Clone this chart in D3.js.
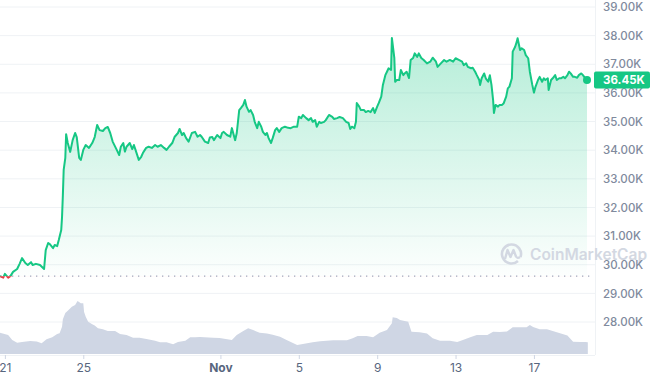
<!DOCTYPE html>
<html>
<head>
<meta charset="utf-8">
<script src="https://cdn.jsdelivr.net/npm/d3@7"></script>
<style>
  body { margin: 0; background: #fff; }
  text { font-family: Inter, "Noto Sans", sans-serif; }
</style>
</head>
<body>
<script>
// hours are counted from Oct 21 2023 00:00
var startDate = new Date(2023, 9, 21)

// [hour, price in K USD]
var priceSeries = [
  [-6, 29.60], [-2, 29.55], [0, 29.68], [4, 29.55], [7, 29.61], [10, 29.75], [15, 29.85], [18, 30.03],
  [21, 30.23], [25, 30.06], [28, 29.99], [32, 30.09], [34, 29.99], [38, 30.03], [43, 29.99], [48, 29.85],
  [50, 30.51], [53, 30.76], [55, 30.72], [59, 30.58], [61, 30.69], [64, 30.65], [66, 30.86], [69, 31.21],
  [70, 31.67], [71, 32.43], [72, 33.31], [74, 33.73], [75, 34.56], [77, 34.25], [80, 33.94], [83, 34.35],
  [86, 34.60], [88, 34.46], [91, 33.73], [93, 33.66], [96, 34.01], [99, 34.18], [103, 34.08], [107, 34.25],
  [110, 34.46], [113, 34.88], [116, 34.70], [120, 34.67], [123, 34.77], [126, 34.81], [129, 34.60], [132, 34.30],
  [137, 34.01], [140, 33.83], [142, 34.12], [145, 34.25], [147, 33.95], [149, 34.12], [153, 34.25], [156, 34.04],
  [158, 34.18], [160, 34.01], [164, 33.66], [167, 33.77], [169, 33.90], [173, 34.08], [176, 34.12], [180, 34.08],
  [184, 34.18], [187, 34.12], [191, 34.18], [195, 34.08], [198, 34.01], [201, 34.12], [205, 34.25], [208, 34.47],
  [212, 34.60], [214, 34.74], [217, 34.53], [219, 34.60], [222, 34.42], [225, 34.30], [229, 34.60], [233, 34.64],
  [236, 34.47], [239, 34.53], [241, 34.47], [245, 34.30], [249, 34.25], [251, 34.44], [254, 34.46], [256, 34.35],
  [260, 34.53], [264, 34.42], [266, 34.60], [268, 34.64], [272, 34.53], [276, 34.47], [278, 34.77], [282, 34.35],
  [284, 34.60], [287, 35.40], [289, 35.47], [292, 35.58], [294, 35.75], [296, 35.52], [299, 35.34], [301, 35.40],
  [304, 35.23], [306, 34.99], [309, 34.77], [311, 34.99], [314, 34.82], [316, 34.64], [319, 34.53], [321, 34.60],
  [323, 34.42], [326, 34.25], [328, 34.42], [331, 34.70], [333, 34.77], [336, 34.64], [339, 34.77], [343, 34.82],
  [347, 34.78], [350, 34.77], [354, 34.82], [358, 34.82], [360, 35.17], [363, 35.12], [365, 35.23], [369, 35.12],
  [372, 35.05], [375, 35.12], [377, 34.99], [380, 35.05], [382, 34.82], [385, 34.99], [387, 34.95], [391, 34.99],
  [393, 35.05], [397, 35.23], [401, 35.16], [403, 35.09], [407, 35.12], [410, 35.16], [414, 35.12], [418, 34.99],
  [421, 34.95], [423, 34.74], [425, 34.82], [428, 34.77], [430, 34.99], [431, 35.65], [434, 35.52], [436, 35.40],
  [440, 35.40], [442, 35.33], [445, 35.37], [448, 35.33], [451, 35.47], [453, 35.30], [456, 35.52], [458, 35.65],
  [461, 35.87], [463, 36.28], [466, 36.62], [468, 36.74], [470, 36.86], [473, 36.80], [474, 37.92], [477, 37.22],
  [478, 36.39], [480, 36.45], [483, 36.45], [485, 36.80], [488, 36.62], [490, 36.69], [492, 36.74], [495, 36.52],
  [497, 37.15], [500, 37.22], [502, 37.38], [505, 37.26], [507, 37.38], [510, 37.22], [513, 37.15], [517, 37.03],
  [521, 37.09], [524, 37.23], [528, 37.09], [530, 36.91], [534, 37.03], [538, 37.15], [541, 37.09], [545, 37.15],
  [549, 37.09], [552, 37.21], [556, 37.15], [560, 37.09], [562, 36.97], [565, 37.03], [567, 36.91], [571, 36.86],
  [573, 36.88], [576, 36.74], [578, 36.62], [581, 36.45], [582, 36.28], [584, 36.51], [587, 36.68], [589, 36.51],
  [592, 36.39], [594, 36.62], [596, 36.28], [598, 35.75], [599, 35.30], [601, 35.58], [604, 35.52], [606, 35.58],
  [609, 35.58], [611, 35.64], [614, 35.87], [616, 36.16], [618, 36.22], [621, 36.51], [622, 37.44], [625, 37.61],
  [627, 37.79], [628, 37.91], [631, 37.50], [633, 37.56], [636, 37.50], [638, 37.32], [641, 37.21], [643, 36.74],
  [646, 36.28], [648, 36.01], [650, 36.22], [653, 36.45], [655, 36.56], [658, 36.39], [660, 36.51], [662, 36.45],
  [665, 36.51], [666, 36.10], [669, 36.45], [671, 36.51], [674, 36.62], [676, 36.45], [679, 36.51], [681, 36.51],
  [684, 36.56], [686, 36.51], [689, 36.62], [691, 36.74], [693, 36.68], [696, 36.56], [698, 36.56], [701, 36.53],
  [703, 36.62], [706, 36.68], [708, 36.62], [711, 36.51], [713, 36.45]
]

// [hour, volume in B USD]
var volumeSeries = [
  [-6, 17.0], [4, 15.2], [9, 11.2], [15, 9.0], [21, 9.6], [31, 10.4], [39, 10.0], [45, 8.6],
  [51, 11.8], [58, 13.4], [64, 16.0], [67, 16.6], [70, 21.8], [71, 27.8], [74, 32.8], [77, 34.6],
  [82, 37.8], [86, 39.2], [89, 42.4], [93, 40.6], [96, 40.6], [97, 33.6], [99, 29.8], [102, 25.8],
  [107, 23.8], [110, 22.8], [114, 20.6], [120, 19.8], [126, 18.4], [135, 18.4], [141, 16.0], [149, 15.2],
  [157, 13.0], [165, 13.0], [175, 11.8], [184, 10.6], [190, 9.4], [198, 9.4], [206, 7.8], [212, 9.6],
  [221, 10.6], [227, 13.4], [233, 13.4], [239, 13.6], [255, 13.0], [263, 12.8], [278, 11.2], [284, 15.2],
  [292, 18.4], [298, 20.6], [304, 19.2], [312, 17.0], [321, 16.4], [328, 15.4], [337, 13.8], [345, 11.2],
  [358, 7.2], [365, 8.0], [377, 9.4], [386, 10.2], [402, 11.0], [419, 11.0], [426, 12.6], [432, 14.4],
  [443, 14.4], [451, 13.4], [459, 17.0], [468, 19.2], [474, 24.6], [475, 29.4], [480, 28.8], [484, 27.2],
  [494, 25.8], [498, 17.8], [508, 17.4], [517, 16.4], [524, 12.6], [533, 10.6], [545, 10.6], [554, 9.6],
  [561, 11.2], [570, 13.4], [578, 15.2], [591, 15.2], [598, 17.8], [606, 17.6], [615, 18.0], [622, 21.4],
  [631, 21.4], [639, 21.4], [643, 23.2], [647, 21.6], [655, 19.8], [664, 19.8], [671, 18.4], [680, 16.6],
  [689, 14.8], [696, 9.8], [705, 9.6], [711, 9.6], [714, 9.4]
]

var priceTicks = [28, 29, 30, 31, 32, 33, 34, 35, 36, 37, 38, 39]
var dateTicks = ['2023-10-21', '2023-10-25', '2023-11-01', '2023-11-05', '2023-11-09', '2023-11-13', '2023-11-17']
var lastPriceLabel = '36.45K'

var green = '#16c784', red = '#ea3943'
var width = 650, height = 380

var prices = priceSeries.map(function (d) {
  return { date: d3.timeHour.offset(startDate, d[0]), value: d[1] }
})
var volumes = volumeSeries.map(function (d) {
  return { date: d3.timeHour.offset(startDate, d[0]), value: d[1] }
})
var openPrice = prices[0].value

var x = d3.scaleTime().domain(d3.extent(prices, d => d.date)).range([0, 587])
var y = d3.scaleLinear().domain([28, 39]).range([322, 7])
var yVol = d3.scaleLinear().domain([0, 60]).range([354, 279])

var svg = d3.select('body').append('svg')
  .attr('width', width)
  .attr('height', height)

var defs = svg.append('defs')
var grad = defs.append('linearGradient')
  .attr('id', 'up-fill')
  .attr('gradientUnits', 'userSpaceOnUse')
  .attr('x1', 0).attr('x2', 0)
  .attr('y1', y(38)).attr('y2', y(openPrice))
grad.append('stop').attr('offset', 0).attr('stop-color', green).attr('stop-opacity', 0.32)
grad.append('stop').attr('offset', 1).attr('stop-color', green).attr('stop-opacity', 0.01)

defs.append('clipPath').attr('id', 'above')
  .append('rect').attr('x', -5).attr('y', 0).attr('width', 610).attr('height', y(openPrice))
defs.append('clipPath').attr('id', 'below')
  .append('rect').attr('x', -5).attr('y', y(openPrice)).attr('width', 610).attr('height', 100)

// grid
svg.append('g')
  .selectAll('line')
  .data(priceTicks)
  .enter()
  .append('line')
  .attr('x1', 0).attr('x2', 595)
  .attr('y1', d => y(d)).attr('y2', d => y(d))
  .attr('stroke', '#eff2f5')
  .attr('stroke-width', 1)

svg.append('line')
  .attr('x1', 595.5).attr('x2', 595.5)
  .attr('y1', 0).attr('y2', 355)
  .attr('stroke', '#eff2f5')

// volume
svg.append('path')
  .datum(volumes)
  .attr('fill', '#cfd6e4')
  .attr('d', d3.area().x(d => x(d.date)).y0(yVol(0)).y1(d => yVol(d.value)))

// price area
var area = d3.area().x(d => x(d.date)).y0(y(openPrice)).y1(d => y(d.value))
svg.append('path')
  .datum(prices)
  .attr('clip-path', 'url(#above)')
  .attr('fill', 'url(#up-fill)')
  .attr('d', area)
svg.append('path')
  .datum(prices)
  .attr('clip-path', 'url(#below)')
  .attr('fill', red)
  .attr('fill-opacity', 0.12)
  .attr('d', area)

// watermark
var wm = svg.append('g').attr('fill', 'none').attr('stroke', '#d3d8e2')
wm.append('path')
  .attr('stroke-width', 2.6)
  .attr('d', d3.arc()({ innerRadius: 9.5, outerRadius: 9.5, startAngle: 2.4, endAngle: 2 * Math.PI + 1.9 }))
  .attr('transform', 'translate(511.5,254)')
wm.append('path')
  .attr('stroke-width', 2.4)
  .attr('stroke-linejoin', 'round')
  .attr('d', 'M505,259 L507.5,250 L510.5,257 L513.5,250 L516,256.5 Q517.5,259 520,257')
svg.append('text')
  .attr('x', 530).attr('y', 260)
  .attr('fill', '#d3d8e2')
  .attr('font-size', 15.5)
  .attr('font-weight', 600)
  .text('CoinMarketCap')

// open price reference
svg.append('line')
  .attr('x1', 0).attr('x2', 590)
  .attr('y1', y(openPrice)).attr('y2', y(openPrice))
  .attr('stroke', '#a1a7bb')
  .attr('stroke-width', 1.3)
  .attr('stroke-dasharray', '1.3 4.7')

// price line
var line = d3.line().x(d => x(d.date)).y(d => y(d.value))
svg.append('path')
  .datum(prices)
  .attr('clip-path', 'url(#above)')
  .attr('fill', 'none')
  .attr('stroke', green)
  .attr('stroke-width', 2)
  .attr('stroke-linejoin', 'round')
  .attr('d', line)
svg.append('path')
  .datum(prices)
  .attr('clip-path', 'url(#below)')
  .attr('fill', 'none')
  .attr('stroke', red)
  .attr('stroke-width', 2)
  .attr('stroke-linejoin', 'round')
  .attr('d', line)

var last = prices[prices.length - 1]
svg.append('circle')
  .attr('cx', x(last.date)).attr('cy', y(last.value))
  .attr('r', 4)
  .attr('fill', green)

// y axis
var yAxis = svg.append('g')
  .attr('transform', 'translate(595,0)')
  .call(d3.axisRight(y).tickValues(priceTicks).tickSize(0).tickPadding(8)
    .tickFormat(d => d.toFixed(2) + 'K'))
yAxis.select('.domain').remove()
yAxis.selectAll('text')
  .attr('fill', '#808a9d')
  .attr('font-size', 11.5)
  .attr('font-weight', 500)
  .attr('font-family', 'Inter, sans-serif')

// last price tag
svg.append('rect')
  .attr('x', 594).attr('y', y(last.value) - 8.5)
  .attr('width', 56).attr('height', 17)
  .attr('rx', 2)
  .attr('fill', green)
svg.append('text')
  .attr('x', 603).attr('y', y(last.value))
  .attr('dy', '0.35em')
  .attr('fill', '#fff')
  .attr('font-size', 11.5)
  .attr('font-weight', 700)
  .text(lastPriceLabel)

// x axis
var parse = d3.timeParse('%Y-%m-%d')
var xAxis = svg.append('g')
  .attr('transform', 'translate(0,355)')
  .call(d3.axisBottom(x).tickValues(dateTicks.map(parse)).tickSize(4).tickPadding(4)
    .tickFormat(d => d.getDate() === 1 ? d3.timeFormat('%b')(d) : d.getDate()))
xAxis.select('.domain').attr('stroke', '#eff2f5').attr('d', 'M0,0.5H595')
xAxis.selectAll('.tick line').attr('stroke', '#cfd6e4')
xAxis.selectAll('text')
  .attr('fill', '#58667e')
  .attr('font-size', 12)
  .attr('font-family', 'Inter, sans-serif')
  .attr('font-weight', d => d.getDate() === 1 ? 700 : 400)
</script>
</body>
</html>
